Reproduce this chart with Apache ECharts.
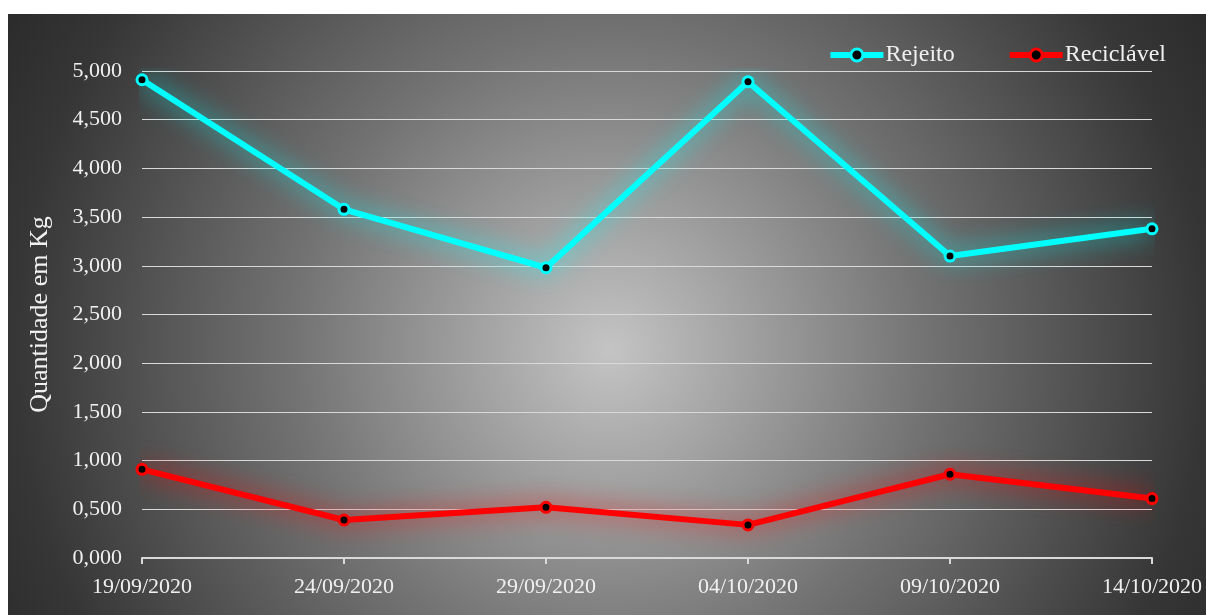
<!DOCTYPE html>
<html>
<head>
<meta charset="utf-8">
<script src="https://cdn.jsdelivr.net/npm/echarts@6/dist/echarts.min.js"></script>
<style>
  html, body { margin: 0; padding: 0; background: #ffffff; }
  #chart { width: 1206px; height: 615px; }
</style>
</head>
<body>
<div id="chart"></div>
<script>
// Collection dates
const categories = ['19/09/2020', '24/09/2020', '29/09/2020', '04/10/2020', '09/10/2020', '14/10/2020'];
// Quantities per collection
const rejeito = [4.91, 3.58, 2.98, 4.89, 3.10, 3.38];
const reciclavel = [0.91, 0.39, 0.52, 0.34, 0.86, 0.61];
// Value axis labels (decimal comma)
const yTickLabels = ['0,000', '0,500', '1,000', '1,500', '2,000', '2,500', '3,000', '3,500', '4,000', '4,500', '5,000'];

const serif = '"Liberation Serif", "DejaVu Serif", serif';
const labelColor = '#f0f0f0';

const chart = echarts.init(document.getElementById('chart'));

chart.setOption({
  backgroundColor: '#ffffff',
  animation: false,
  graphic: [{
    type: 'rect',
    z: -10,
    silent: true,
    shape: { x: 8, y: 14, width: 1198, height: 601 },
    style: {
      fill: new echarts.graphic.RadialGradient(610, 350, 700, [
        { offset: 0, color: '#c4c4c4' },
        { offset: 0.45, color: '#737373' },
        { offset: 0.85, color: '#363636' },
        { offset: 1, color: '#2a2a2a' }
      ], true)
    }
  }],
  legend: {
    right: 35,
    top: 38,
    itemWidth: 53,
    itemHeight: 15,
    itemGap: 52,
    itemStyle: { borderWidth: 3 },
    lineStyle: { width: 6, shadowBlur: 0 },
    textStyle: { color: labelColor, fontFamily: serif, fontSize: 24, padding: [0, 0, 0, -3] },
    data: ['Rejeito', 'Reciclável']
  },
  grid: { left: 142, right: 54, top: 71, bottom: 57, containLabel: false },
  xAxis: {
    type: 'category',
    data: categories,
    boundaryGap: false,
    axisLine: { lineStyle: { color: '#d9d9d9', width: 2 } },
    axisTick: { show: true, length: 6, lineStyle: { color: '#d9d9d9', width: 2 } },
    axisLabel: { color: labelColor, fontFamily: serif, fontSize: 22, margin: 18 },
    splitLine: { show: false }
  },
  yAxis: {
    type: 'value',
    min: 0,
    max: 5,
    interval: 0.5,
    name: 'Quantidade em Kg',
    nameLocation: 'middle',
    nameGap: 89,
    nameTextStyle: { color: labelColor, fontFamily: serif, fontSize: 26 },
    axisLine: { show: false },
    axisTick: { show: false },
    axisLabel: {
      color: labelColor, fontFamily: serif, fontSize: 22, margin: 20,
      formatter: v => yTickLabels[Math.round(v / 0.5)]
    },
    splitLine: { lineStyle: { color: '#d9d9d9', width: 1.2 } }
  },
  series: [
    {
      name: 'Rejeito',
      type: 'line',
      data: rejeito,
      symbol: 'circle',
      symbolSize: 10,
      lineStyle: { color: '#00ffff', width: 6, shadowBlur: 24, shadowColor: 'rgba(0,255,255,0.9)' },
      itemStyle: { color: '#000000', borderColor: '#00ffff', borderWidth: 3 }
    },
    {
      name: 'Reciclável',
      type: 'line',
      data: reciclavel,
      symbol: 'circle',
      symbolSize: 10,
      lineStyle: { color: '#ff0000', width: 6, shadowBlur: 24, shadowColor: 'rgba(255,0,0,0.9)' },
      itemStyle: { color: '#000000', borderColor: '#ff0000', borderWidth: 3 }
    }
  ]
});
</script>
</body>
</html>
